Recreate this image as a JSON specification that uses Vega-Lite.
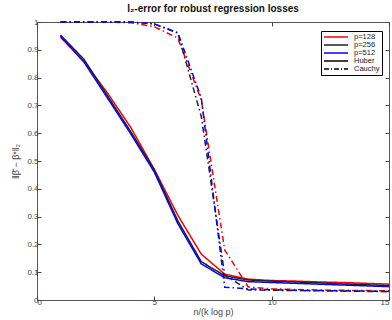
{
  "$schema": "https://vega.github.io/schema/vega-lite/v6.json",
  "width": 352,
  "height": 278,
  "autosize": "none",
  "padding": {"left": 37, "top": 22, "right": 3, "bottom": 20},
  "background": "white",
  "config": {
    "font": "Liberation Sans",
    "view": {"stroke": "#555", "strokeWidth": 1},
    "axis": {"grid": false, "domain": false, "tickColor": "#444", "labelColor": "#444", "labelFontSize": 8, "titleColor": "#444", "titleFontSize": 9, "titleFontWeight": "normal"}
  },
  "title": {"text": "l₂-error for robust regression losses", "fontSize": 10, "fontWeight": "bold", "color": "#111", "offset": 4, "font": "Liberation Sans"},
  "data": {"values": [
    {"n":1,"v":0.945,"p":"p=128","loss":"Huber"},{"n":2,"v":0.858,"p":"p=128","loss":"Huber"},{"n":3,"v":0.745,"p":"p=128","loss":"Huber"},{"n":4,"v":0.62,"p":"p=128","loss":"Huber"},{"n":5,"v":0.47,"p":"p=128","loss":"Huber"},{"n":6,"v":0.305,"p":"p=128","loss":"Huber"},{"n":7,"v":0.165,"p":"p=128","loss":"Huber"},{"n":8,"v":0.093,"p":"p=128","loss":"Huber"},{"n":9,"v":0.075,"p":"p=128","loss":"Huber"},{"n":10,"v":0.07,"p":"p=128","loss":"Huber"},{"n":11,"v":0.068,"p":"p=128","loss":"Huber"},{"n":12,"v":0.065,"p":"p=128","loss":"Huber"},{"n":13,"v":0.063,"p":"p=128","loss":"Huber"},{"n":14,"v":0.06,"p":"p=128","loss":"Huber"},{"n":15,"v":0.057,"p":"p=128","loss":"Huber"},
    {"n":1,"v":0.953,"p":"p=256","loss":"Huber"},{"n":2,"v":0.866,"p":"p=256","loss":"Huber"},{"n":3,"v":0.735,"p":"p=256","loss":"Huber"},{"n":4,"v":0.605,"p":"p=256","loss":"Huber"},{"n":5,"v":0.468,"p":"p=256","loss":"Huber"},{"n":6,"v":0.285,"p":"p=256","loss":"Huber"},{"n":7,"v":0.138,"p":"p=256","loss":"Huber"},{"n":8,"v":0.087,"p":"p=256","loss":"Huber"},{"n":9,"v":0.072,"p":"p=256","loss":"Huber"},{"n":10,"v":0.068,"p":"p=256","loss":"Huber"},{"n":11,"v":0.065,"p":"p=256","loss":"Huber"},{"n":12,"v":0.062,"p":"p=256","loss":"Huber"},{"n":13,"v":0.058,"p":"p=256","loss":"Huber"},{"n":14,"v":0.055,"p":"p=256","loss":"Huber"},{"n":15,"v":0.052,"p":"p=256","loss":"Huber"},
    {"n":1,"v":0.95,"p":"p=512","loss":"Huber"},{"n":2,"v":0.856,"p":"p=512","loss":"Huber"},{"n":3,"v":0.727,"p":"p=512","loss":"Huber"},{"n":4,"v":0.597,"p":"p=512","loss":"Huber"},{"n":5,"v":0.46,"p":"p=512","loss":"Huber"},{"n":6,"v":0.275,"p":"p=512","loss":"Huber"},{"n":7,"v":0.13,"p":"p=512","loss":"Huber"},{"n":8,"v":0.08,"p":"p=512","loss":"Huber"},{"n":9,"v":0.066,"p":"p=512","loss":"Huber"},{"n":10,"v":0.063,"p":"p=512","loss":"Huber"},{"n":11,"v":0.06,"p":"p=512","loss":"Huber"},{"n":12,"v":0.057,"p":"p=512","loss":"Huber"},{"n":13,"v":0.054,"p":"p=512","loss":"Huber"},{"n":14,"v":0.051,"p":"p=512","loss":"Huber"},{"n":15,"v":0.048,"p":"p=512","loss":"Huber"},
    {"n":1,"v":1.0,"p":"p=128","loss":"Cauchy"},{"n":2,"v":1.0,"p":"p=128","loss":"Cauchy"},{"n":3,"v":1.0,"p":"p=128","loss":"Cauchy"},{"n":4,"v":0.997,"p":"p=128","loss":"Cauchy"},{"n":5,"v":0.983,"p":"p=128","loss":"Cauchy"},{"n":6,"v":0.942,"p":"p=128","loss":"Cauchy"},{"n":7,"v":0.72,"p":"p=128","loss":"Cauchy"},{"n":8,"v":0.18,"p":"p=128","loss":"Cauchy"},{"n":9,"v":0.047,"p":"p=128","loss":"Cauchy"},{"n":10,"v":0.04,"p":"p=128","loss":"Cauchy"},{"n":11,"v":0.038,"p":"p=128","loss":"Cauchy"},{"n":12,"v":0.036,"p":"p=128","loss":"Cauchy"},{"n":13,"v":0.035,"p":"p=128","loss":"Cauchy"},{"n":14,"v":0.034,"p":"p=128","loss":"Cauchy"},{"n":15,"v":0.033,"p":"p=128","loss":"Cauchy"},
    {"n":1,"v":1.0,"p":"p=256","loss":"Cauchy"},{"n":2,"v":1.0,"p":"p=256","loss":"Cauchy"},{"n":3,"v":1.0,"p":"p=256","loss":"Cauchy"},{"n":4,"v":1.0,"p":"p=256","loss":"Cauchy"},{"n":5,"v":0.993,"p":"p=256","loss":"Cauchy"},{"n":6,"v":0.96,"p":"p=256","loss":"Cauchy"},{"n":7,"v":0.66,"p":"p=256","loss":"Cauchy"},{"n":8,"v":0.09,"p":"p=256","loss":"Cauchy"},{"n":9,"v":0.036,"p":"p=256","loss":"Cauchy"},{"n":10,"v":0.035,"p":"p=256","loss":"Cauchy"},{"n":11,"v":0.034,"p":"p=256","loss":"Cauchy"},{"n":12,"v":0.033,"p":"p=256","loss":"Cauchy"},{"n":13,"v":0.032,"p":"p=256","loss":"Cauchy"},{"n":14,"v":0.031,"p":"p=256","loss":"Cauchy"},{"n":15,"v":0.03,"p":"p=256","loss":"Cauchy"},
    {"n":1,"v":1.0,"p":"p=512","loss":"Cauchy"},{"n":2,"v":1.0,"p":"p=512","loss":"Cauchy"},{"n":3,"v":1.0,"p":"p=512","loss":"Cauchy"},{"n":4,"v":1.0,"p":"p=512","loss":"Cauchy"},{"n":5,"v":0.993,"p":"p=512","loss":"Cauchy"},{"n":6,"v":0.962,"p":"p=512","loss":"Cauchy"},{"n":7,"v":0.727,"p":"p=512","loss":"Cauchy"},{"n":8,"v":0.046,"p":"p=512","loss":"Cauchy"},{"n":9,"v":0.04,"p":"p=512","loss":"Cauchy"},{"n":10,"v":0.037,"p":"p=512","loss":"Cauchy"},{"n":11,"v":0.035,"p":"p=512","loss":"Cauchy"},{"n":12,"v":0.034,"p":"p=512","loss":"Cauchy"},{"n":13,"v":0.033,"p":"p=512","loss":"Cauchy"},{"n":14,"v":0.032,"p":"p=512","loss":"Cauchy"},{"n":15,"v":0.031,"p":"p=512","loss":"Cauchy"}
  ]},
  "resolve": {"axis": {"x": "independent", "y": "independent"}},
  "layer": [
    {
      "mark": {"type": "line", "strokeWidth": 1.5},
      "encoding": {
        "x": {"field": "n", "type": "quantitative", "scale": {"domain": [0, 15], "nice": false, "zero": false},
              "axis": {"orient": "bottom", "values": [0, 5, 10, 15], "tickSize": -4, "labelPadding": 2, "title": "n/(k log p)", "titlePadding": 1}},
        "y": {"field": "v", "type": "quantitative", "scale": {"domain": [0, 1], "nice": false},
              "axis": {"orient": "left", "values": [0, 0.1, 0.2, 0.3, 0.4, 0.5, 0.6, 0.7, 0.8, 0.9, 1], "format": "~g", "tickSize": -4, "labelPadding": 3, "title": "‖β̂ − β*‖₂", "titlePadding": 6}},
        "color": {"field": "p", "type": "nominal",
                  "scale": {"domain": ["p=128", "p=256", "p=512", "Huber", "Cauchy"], "range": ["#ff0000", "#222222", "#0000ff", "#000000", "#000000"]},
                  "legend": {"title": null, "orient": "none", "legendX": 284, "legendY": 9, "symbolType": "M-1,0H7", "symbolSize": 36, "symbolStrokeWidth": 1.5, "labelFontSize": 7.5, "labelColor": "#222", "rowPadding": 0, "padding": 2, "strokeColor": "#000", "fillColor": "white", "labelOffset": 23,
                             "encode": {"symbols": {"update": {"strokeDash": {"signal": "datum.value === 'Cauchy' ? [5,2,1,2] : [1,0]"}}}}}},
        "strokeDash": {"field": "loss", "type": "nominal", "scale": {"domain": ["Huber", "Cauchy"], "range": [[1, 0], [6, 3, 1.5, 3]]}, "legend": null}
      }
    },
    {
      "mark": {"type": "point", "opacity": 0},
      "encoding": {
        "x": {"field": "n", "type": "quantitative", "axis": {"orient": "top", "values": [0, 5, 10, 15], "tickSize": -4, "labels": false, "title": null}},
        "y": {"field": "v", "type": "quantitative", "axis": {"orient": "right", "values": [0, 0.1, 0.2, 0.3, 0.4, 0.5, 0.6, 0.7, 0.8, 0.9, 1], "tickSize": -4, "labels": false, "title": null}}
      }
    }
  ]
}
